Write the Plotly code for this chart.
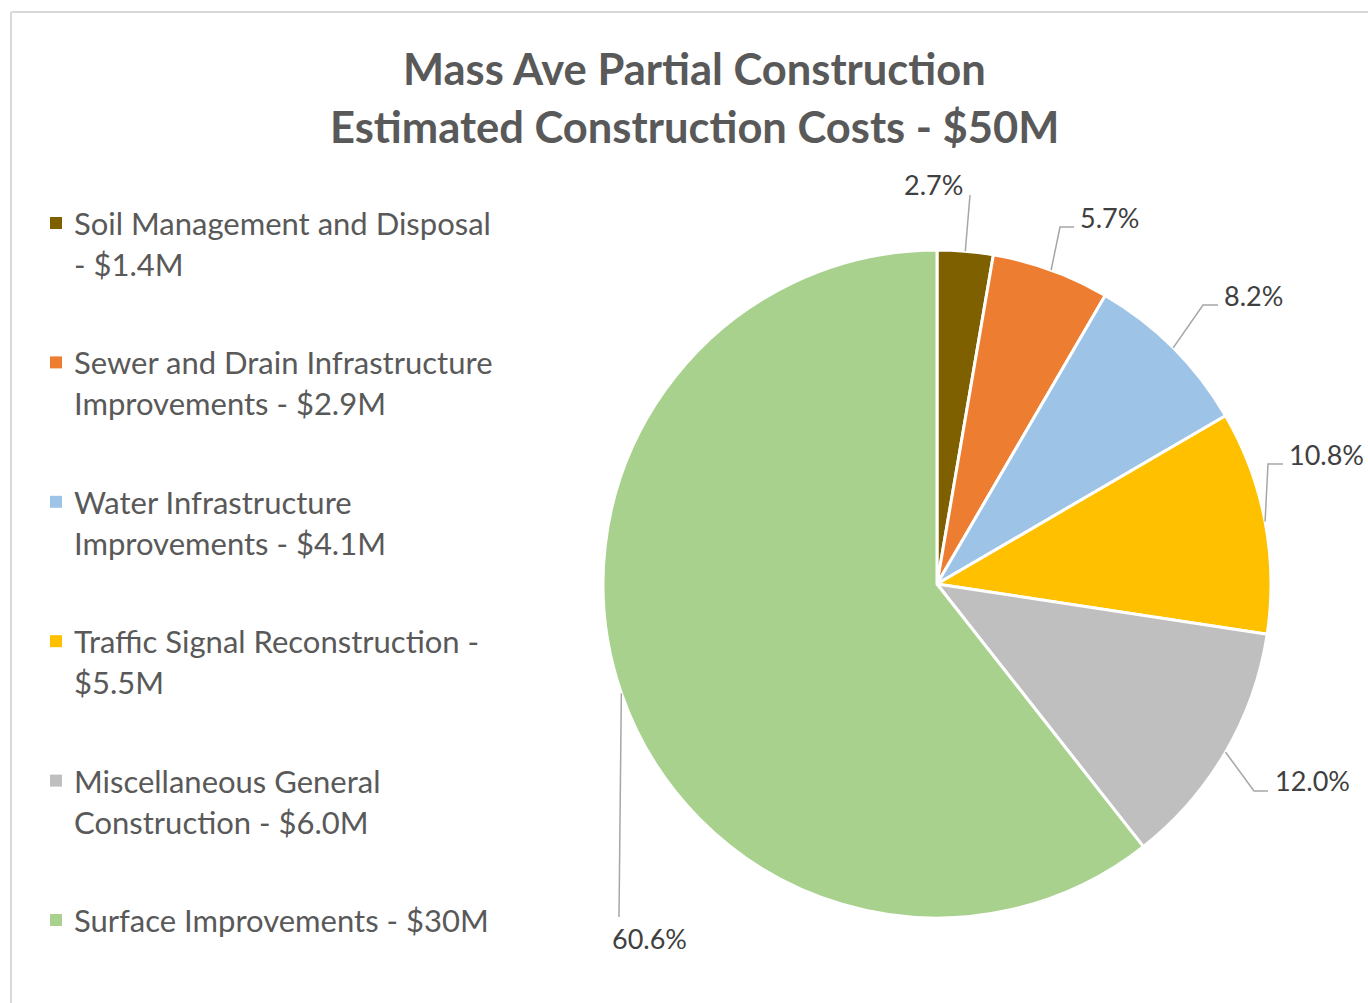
import math
import plotly.graph_objects as go

# ---------------- data ----------------
categories = [
    "Soil Management and Disposal",
    "Sewer and Drain Infrastructure Improvements",
    "Water Infrastructure Improvements",
    "Traffic Signal Reconstruction",
    "Miscellaneous General Construction",
    "Surface Improvements",
]
cost_labels = ["$1.4M", "$2.9M", "$4.1M", "$5.5M", "$6.0M", "$30M"]
share_pct = [2.7, 5.7, 8.2, 10.8, 12.0, 60.6]
legend_lines = [
    ["Soil Management and Disposal", "- $1.4M"],
    ["Sewer and Drain Infrastructure", "Improvements - $2.9M"],
    ["Water Infrastructure", "Improvements - $4.1M"],
    ["Traffic Signal Reconstruction -", "$5.5M"],
    ["Miscellaneous General", "Construction - $6.0M"],
    ["Surface Improvements - $30M"],
]
colors = ["#7F6000", "#ED7D31", "#9DC3E6", "#FFC000", "#BFBFBF", "#A9D18E"]

# ---------------- layout constants ----------------
W, H = 1368, 1003
CX, CY, R = 937, 584, 334          # pie centre / radius in pixels
FONT = "Lato"


def px(x):
    return x / W


def py(y):
    return 1 - y / H


fig = go.Figure()
fig.add_trace(go.Pie(
    labels=[f"{c} - {v}" for c, v in zip(categories, cost_labels)],
    values=share_pct,
    sort=False,
    direction="clockwise",
    rotation=0,
    marker=dict(colors=colors, line=dict(color="white", width=3)),
    textinfo="none",
    hoverinfo="label+percent",
    showlegend=False,
    domain=dict(x=[px(CX - R), px(CX + R)], y=[py(CY + R), py(CY - R)]),
))

annotations = []
shapes = []

# frame
shapes.append(dict(type="line", xref="paper", yref="paper", x0=px(11), x1=1.0,
                   y0=py(12), y1=py(12), line=dict(color="#D9D9D9", width=2)))
shapes.append(dict(type="line", xref="paper", yref="paper", x0=px(11), x1=px(11),
                   y0=py(12), y1=0, line=dict(color="#D9D9D9", width=2)))

# title
title_lines = ["Mass Ave Partial Construction", "Estimated Construction Costs - $50M"]
for i, t in enumerate(title_lines):
    annotations.append(dict(text=f"<b>{t}</b>", x=px(694), y=py(68 + 58 * i),
                            xref="paper", yref="paper", showarrow=False,
                            xanchor="center", yanchor="middle",
                            font=dict(family=FONT, size=43.5, color="#595959")))

# legend (manual, to reproduce Excel spacing)
LEG_TOP, LEG_STEP, LINE_STEP = 223, 139.4, 41
for i, lines in enumerate(legend_lines):
    y0 = LEG_TOP + LEG_STEP * i
    shapes.append(dict(type="rect", xref="paper", yref="paper",
                       x0=px(50), x1=px(62), y0=py(y0 - 6), y1=py(y0 + 6),
                       fillcolor=colors[i], line=dict(width=0)))
    for j, ln in enumerate(lines):
        annotations.append(dict(text=ln, x=px(72), y=py(y0 + LINE_STEP * j),
                                xref="paper", yref="paper", showarrow=False,
                                xanchor="left", yanchor="middle",
                                font=dict(family=FONT, size=31, color="#595959")))

# data labels with leader lines
# leader path points after the slice edge point, and label anchor (pixels)
leader_pts = [
    [(970, 195)],
    [(1060, 227), (1074, 227)],
    [(1203, 305), (1218, 305)],
    [(1268, 464), (1283, 464)],
    [(1254, 791), (1268, 791)],
    [(619, 917)],
]
label_pos = [(965, 185, "right"), (1078, 217, "left"), (1222, 295, "left"),
             (1287, 455, "left"), (1273, 780, "left"), (610, 938, "left")]

cum = 0.0
total = sum(share_pct)
for i, v in enumerate(share_pct):
    mid = (cum + v / 2) / total * 2 * math.pi
    cum += v
    ex = CX + R * math.sin(mid)
    ey = CY - R * math.cos(mid)
    pts = [(ex, ey)] + leader_pts[i]
    path = "M " + " L ".join(f"{px(x)},{py(y)}" for x, y in pts)
    shapes.append(dict(type="path", xref="paper", yref="paper", path=path,
                       line=dict(color="#A6A6A6", width=1.5)))
    lx, ly, anc = label_pos[i]
    annotations.append(dict(text=f"{v:.1f}%", x=px(lx), y=py(ly),
                            xref="paper", yref="paper", showarrow=False,
                            xanchor=anc, yanchor="middle",
                            font=dict(family=FONT, size=27, color="#404040")))

fig.update_layout(
    width=W, height=H,
    margin=dict(l=0, r=0, t=0, b=0),
    paper_bgcolor="white",
    plot_bgcolor="white",
    annotations=annotations,
    shapes=shapes,
    showlegend=False,
)

fig.write_html("out.html")
